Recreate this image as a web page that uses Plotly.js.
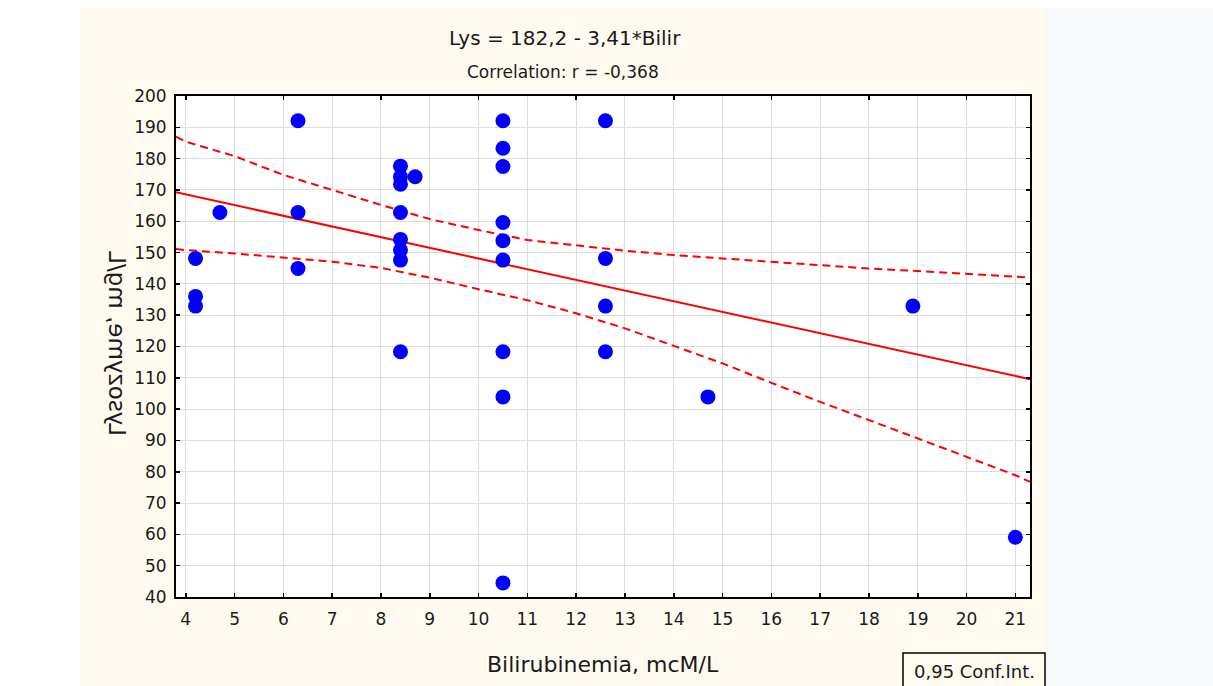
<!DOCTYPE html>
<html>
<head>
<meta charset="utf-8">
<script src="https://cdn.plot.ly/plotly-3.0.1.min.js"></script>
<style>
  html, body { margin: 0; padding: 0; background: #ffffff; }
  #chart { width: 1213px; height: 686px; }
</style>
</head>
<body>
<div id="chart"></div>
<script>
// Bilirubinemia (mcM/L) vs lysozyme (mg/L), one point per patient
const bilir = [4.2, 4.2, 4.2, 4.7, 6.3, 6.3, 6.3,
  8.4, 8.4, 8.4, 8.7, 8.4, 8.4, 8.4, 8.4, 8.4,
  10.5, 10.5, 10.5, 10.5, 10.5, 10.5, 10.5, 10.5, 10.5,
  12.6, 12.6, 12.6, 12.6, 14.7, 18.9, 21.0];
const lys = [148.1, 136.0, 132.9, 162.8, 192.1, 162.8, 144.9,
  177.6, 174.2, 171.8, 174.2, 162.8, 154.2, 150.8, 147.6, 118.3,
  192.1, 183.3, 177.5, 159.6, 153.8, 147.6, 118.3, 103.9, 44.5,
  192.1, 148.1, 132.9, 118.3, 103.9, 132.9, 59.1];

// Fitted line: Lys = 182.2 - 3.41*Bilir
const intercept = 182.2;
const slope = -3.41;
const corr = -0.368;

// 0.95 confidence band for the fitted line
const bandX = [3.8, 4, 5, 6, 7, 8, 9, 10, 11, 12, 13, 14, 15, 16, 17, 18, 19, 20, 21, 21.3];
const bandUpper = [187.0, 185.4, 180.8, 174.8, 170.0, 165.2, 160.7, 157.2, 154.0, 152.2,
  150.6, 149.2, 148.1, 147.1, 145.8, 144.9, 144.1, 143.1, 142.3, 142.0];
const bandLower = [151.1, 150.8, 149.7, 148.5, 147.1, 145.1, 142.0, 138.3, 134.8, 130.6,
  125.8, 120.2, 114.6, 108.4, 102.3, 96.5, 90.6, 84.8, 78.9, 76.8];

const xRange = [3.8, 21.3];
const yRange = [40, 200];

const fmt = (v, d) => v.toFixed(d).replace('.', ',');
const titleText = 'Lys = ' + fmt(intercept, 1) + ' - ' + fmt(-slope, 2) + '*Bilir';
const subText = 'Correlation: r = ' + fmt(corr, 3);

const FONT = 'DejaVu Sans, Arial, sans-serif';
const INK = '#1a1a1a';

// plot area in pixels
const M = {l: 176, r: 183, t: 96, b: 89};
const W = 1213, H = 686;
const PW = W - M.l - M.r, PH = H - M.t - M.b;
const px = p => (p - M.l) / PW;
const py = p => (H - M.b - p) / PH;

const fitX = xRange.slice();
const fitY = fitX.map(x => intercept + slope * x);

const traces = [
  {x: bandX, y: bandUpper, mode: 'lines', type: 'scatter', hoverinfo: 'skip',
   line: {color: '#ff0000', width: 2, dash: '8px,5px'}},
  {x: bandX, y: bandLower, mode: 'lines', type: 'scatter', hoverinfo: 'skip',
   line: {color: '#ff0000', width: 2, dash: '8px,5px'}},
  {x: fitX, y: fitY, mode: 'lines', type: 'scatter',
   line: {color: '#ff0000', width: 2}},
  {x: bilir, y: lys, mode: 'markers', type: 'scatter',
   marker: {color: '#0000ff', size: 15, line: {width: 0}}},
  // carries the top axis with its tick marks
  {x: [], y: [], xaxis: 'x2', yaxis: 'y', mode: 'markers', type: 'scatter', hoverinfo: 'skip'}
];

const layout = {
  width: W, height: H,
  margin: M,
  showlegend: false,
  paper_bgcolor: '#ffffff',
  plot_bgcolor: 'rgba(0,0,0,0)',
  font: {family: FONT, color: INK},
  xaxis: {
    range: xRange, dtick: 1, tick0: 0,
    showgrid: true, gridcolor: '#dcdcdc', gridwidth: 1,
    zeroline: false,
    showline: true, linecolor: '#000000', linewidth: 2, mirror: true,
    ticks: 'inside', ticklen: 4, tickwidth: 1.5, tickcolor: '#000000',
    tickfont: {family: FONT, size: 17, color: INK},
    ticklabelstandoff: 6
  },
  xaxis2: {
    range: xRange, dtick: 2, tick0: 0,
    overlaying: 'x', side: 'top', anchor: 'y',
    showgrid: false, zeroline: false, showline: false,
    ticks: 'inside', ticklen: 4, tickwidth: 1.5, tickcolor: '#000000',
    showticklabels: false
  },
  yaxis: {
    range: yRange, dtick: 10, tick0: 0,
    showgrid: true, gridcolor: '#dcdcdc', gridwidth: 1,
    zeroline: false,
    showline: true, linecolor: '#000000', linewidth: 2, mirror: 'ticks',
    ticks: 'inside', ticklen: 4, tickwidth: 1.5, tickcolor: '#000000',
    tickfont: {family: FONT, size: 17, color: INK},
    ticklabelstandoff: 4
  },
  shapes: [
    // cream panel and the grey strip to its right
    {type: 'rect', xref: 'paper', yref: 'paper', layer: 'below',
     x0: px(80), x1: px(1046), y0: py(8), y1: py(H + 2),
     fillcolor: '#fefaf0', line: {width: 0}},
    {type: 'rect', xref: 'paper', yref: 'paper', layer: 'below',
     x0: px(1046), x1: px(W + 2), y0: py(8), y1: py(H + 2),
     fillcolor: '#f7f8fa', line: {width: 0}},
    // white plotting field
    {type: 'rect', xref: 'paper', yref: 'paper', layer: 'below',
     x0: 0, x1: 1, y0: 0, y1: 1,
     fillcolor: '#ffffff', line: {width: 0}},
    // legend box
    {type: 'rect', xref: 'paper', yref: 'paper', layer: 'above',
     x0: px(903), x1: px(1045), y0: py(700), y1: py(653),
     fillcolor: 'rgba(0,0,0,0)', line: {color: '#000000', width: 1.5}}
  ],
  annotations: [
    {text: titleText, xref: 'paper', yref: 'paper', x: px(565), y: py(38),
     xanchor: 'center', yanchor: 'middle', showarrow: false,
     font: {family: FONT, size: 20, color: INK}},
    {text: subText, xref: 'paper', yref: 'paper', x: px(563), y: py(72),
     xanchor: 'center', yanchor: 'middle', showarrow: false,
     font: {family: FONT, size: 17, color: INK}},
    {text: 'Bilirubinemia, mcM/L', xref: 'paper', yref: 'paper', x: px(603), y: py(664),
     xanchor: 'center', yanchor: 'middle', showarrow: false,
     font: {family: FONT, size: 22, color: INK}},
    {text: 'Lysozyme, mg/L', xref: 'paper', yref: 'paper', x: px(117), y: py(344),
     xanchor: 'center', yanchor: 'middle', showarrow: false, textangle: -90,
     font: {family: FONT, size: 23, color: INK}},
    {text: '0,95 Conf.Int.', xref: 'paper', yref: 'paper', x: px(974), y: py(671),
     xanchor: 'center', yanchor: 'middle', showarrow: false,
     font: {family: FONT, size: 18, color: INK}}
  ]
};

const gd = document.getElementById('chart');
Plotly.newPlot(gd, traces, layout, {displayModeBar: false, staticPlot: true}).then(() => {
  // the vertical axis caption is drawn mirrored, its letters facing the axis
  const g = gd.querySelector('.annotation[data-index="3"] .annotation-text-g');
  if (!g) return;
  const tr = g.getAttribute('transform') || '';
  const m = tr.match(/rotate\(\s*([-\d.e]+)[ ,]+([-\d.e]+)[ ,]+([-\d.e]+)\s*\)/);
  if (m) {
    const cx = parseFloat(m[2]);
    g.setAttribute('transform', 'translate(' + (2 * cx) + ',0) scale(-1,1) ' + tr);
  }
});
</script>
</body>
</html>
